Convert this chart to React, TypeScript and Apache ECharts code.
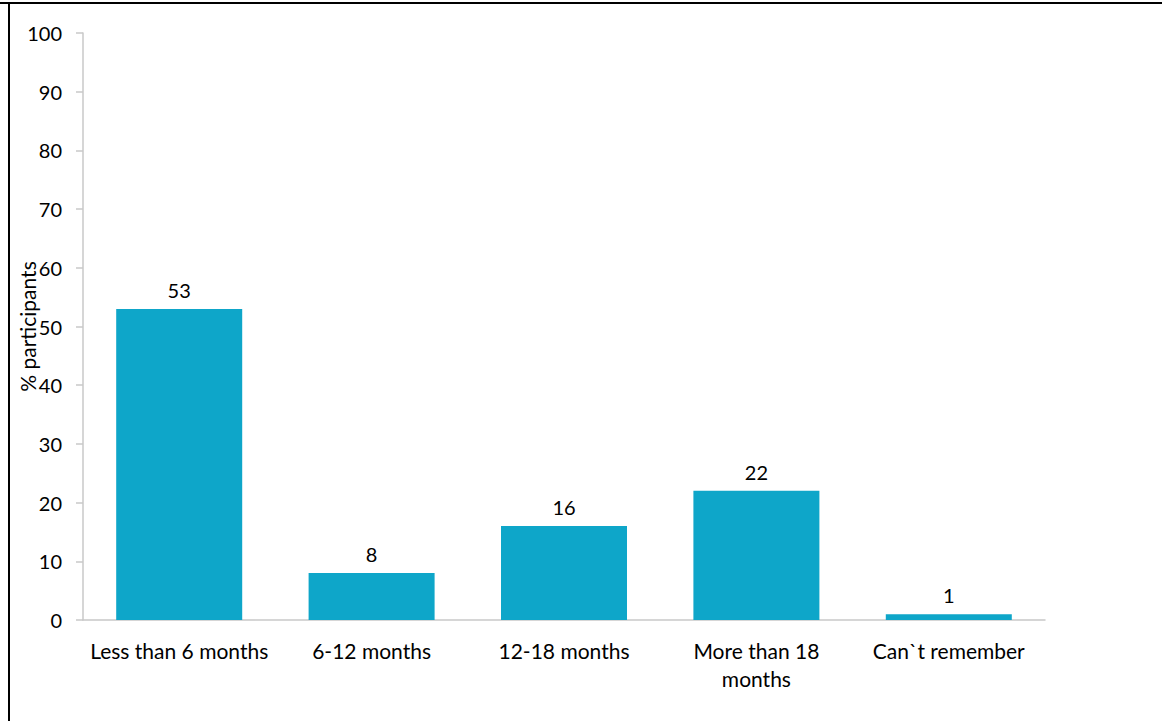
import React, { useEffect, useRef } from "react";
import * as echarts from "echarts";

const categories = ["Less than 6 months", "6-12 months", "12-18 months", "More than 18\nmonths", "Can`t remember"];
const values = [53, 8, 16, 22, 1];
const yTicks = { min: 0, max: 100, interval: 10 };

export default function App() {
  const ref = useRef<HTMLDivElement>(null);
  useEffect(() => {
    const chart = echarts.init(ref.current!, null, { renderer: "svg" });
    const font = "Lato, 'Liberation Sans', sans-serif";
    chart.setOption({
      animation: false,
      backgroundColor: "#ffffff",
      textStyle: { fontFamily: font },
      graphic: [
        { type: "rect", shape: { x: 0, y: 2, width: 1162, height: 2 }, style: { fill: "#000" } },
        { type: "rect", shape: { x: 8, y: 2, width: 2, height: 719 }, style: { fill: "#000" } },
      ],
      grid: { left: 83, right: 117, top: 33, bottom: 101, containLabel: false, outerBoundsMode: "none" },
      xAxis: {
        type: "category",
        data: categories,
        axisLine: { lineStyle: { color: "#c8c8c8", width: 1.5 } },
        axisTick: { show: false },
        axisLabel: { color: "#000", fontSize: 21, fontFamily: font, margin: 16, lineHeight: 28, interval: 0 },
      },
      yAxis: {
        type: "value",
        min: yTicks.min,
        max: yTicks.max,
        interval: yTicks.interval,
        name: "% participants",
        nameLocation: "middle",
        nameGap: 45,
        nameMoveOverlap: false,
        nameTextStyle: { color: "#000", fontSize: 21, fontFamily: font },
        axisLine: { show: true, lineStyle: { color: "#c8c8c8", width: 1.5 } },
        axisTick: { show: true, length: 7, lineStyle: { color: "#c8c8c8", width: 1.5 } },
        splitLine: { show: false },
        axisLabel: { color: "#000", fontSize: 20, fontFamily: font, margin: 21 },
      },
      series: [
        {
          type: "bar",
          data: values,
          barWidth: 126,
          itemStyle: { color: "#0ea6c9" },
          label: { show: true, position: "top", color: "#000", fontSize: 20, fontFamily: font, distance: 9 },
        },
      ],
    });
    return () => chart.dispose();
  }, []);
  return <div ref={ref} style={{ position: "fixed", left: 0, top: 0, width: 1162, height: 721 }} />;
}
